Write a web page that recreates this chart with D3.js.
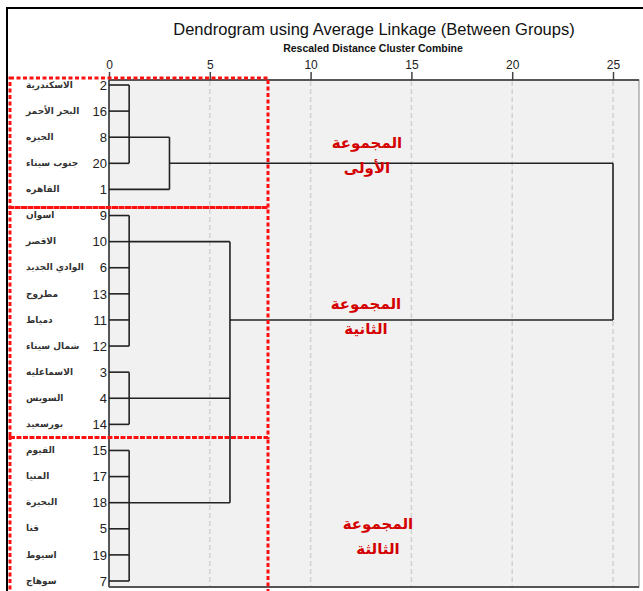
<!DOCTYPE html>
<html>
<head>
<meta charset="utf-8">
<script src="https://cdn.jsdelivr.net/npm/d3@7/dist/d3.min.js"></script>
<style>
  html, body { margin: 0; padding: 0; background: #ffffff; }
  svg { display: block; }
</style>
</head>
<body>
<svg id="chart" width="643" height="591"></svg>
<script>
// ---------------- DATA ----------------
const caseNumbers = [2, 16, 8, 20, 1, 9, 10, 6, 13, 11, 12, 3, 4, 14, 15, 17, 18, 5, 19, 7];
const caseNames = ["الاسكندرية", "البحر الأحمر", "الجيزه", "جنوب سيناء", "القاهره",
  "اسوان", "الاقصر", "الوادي الجديد", "مطروح", "دمياط", "شمال سيناء",
  "الاسماعليه", "السويس", "بورسعيد",
  "الفيوم", "المنيا", "البحيرة", "قنا", "اسيوط", "سوهاج"];

// clusters: id, members (case numbers or cluster ids), rescaled distance, leaf at whose row the link leaves
const clusterIds = ["A", "B", "C", "D", "E", "F", "G"];
const clusterMembers = [
  [2, 16, 8, 20],
  ["A", 1],
  [9, 10, 6, 13, 11, 12],
  [3, 4, 14],
  [15, 17, 18, 5, 19, 7],
  ["C", "D", "E"],
  ["B", "F"]
];
const clusterDistance = [1, 3, 1, 1, 1, 6, 25];
const clusterAnchor = [8, 20, 10, 4, 18, 11, null];

const axisTicks = [0, 5, 10, 15, 20, 25];
const titleText = "Dendrogram using Average Linkage (Between Groups)";
const subtitleText = "Rescaled Distance Cluster Combine";
const groupTitles = ["المجموعة", "المجموعة", "المجموعة"];
const groupNames = ["الأولى", "الثانية", "الثالثة"];
const groupFirstCase = [2, 9, 15];

// ---------------- LAYOUT ----------------
const svg = d3.select("#chart");
const plot = { left: 109, right: 639, top: 80, bottom: 587 };

const x = d3.scaleLinear().domain([0, 25]).range([109, 613]);
const y = d3.scalePoint().domain(caseNumbers).range([85, 581]);

// outer frame
svg.append("rect").attr("x", 0).attr("y", 0).attr("width", 643).attr("height", 591).attr("fill", "#ffffff");
svg.append("path").attr("d", "M7,600 V8 H660").attr("fill", "none").attr("stroke", "#000").attr("stroke-width", 2);

// plot background
svg.append("rect")
  .attr("x", plot.left).attr("y", plot.top)
  .attr("width", plot.right - plot.left).attr("height", plot.bottom - plot.top)
  .attr("fill", "#f1f1f1").attr("stroke", "#888").attr("stroke-width", 1);
svg.append("line").attr("x1", plot.left).attr("x2", plot.right).attr("y1", plot.top).attr("y2", plot.top)
  .attr("stroke", "#333").attr("stroke-width", 1.5);
svg.append("line").attr("x1", plot.left).attr("x2", plot.left).attr("y1", plot.top).attr("y2", plot.bottom)
  .attr("stroke", "#333").attr("stroke-width", 1.5);
svg.append("line").attr("x1", plot.left).attr("x2", plot.right).attr("y1", plot.bottom).attr("y2", plot.bottom)
  .attr("stroke", "#555").attr("stroke-width", 2);

// grid lines
svg.append("g").selectAll("line").data(axisTicks.filter(t => t > 0)).join("line")
  .attr("x1", d => x(d)).attr("x2", d => x(d))
  .attr("y1", plot.top + 1).attr("y2", plot.bottom - 1)
  .attr("stroke", "#d2d2d2").attr("stroke-width", 1.5).attr("stroke-dasharray", "5,3");

// axis
const axis = d3.axisTop(x).tickValues(axisTicks).tickSize(8).tickPadding(3);
const gAxis = svg.append("g").attr("transform", `translate(0,${plot.top})`).call(axis);
gAxis.select(".domain").remove();
gAxis.selectAll(".tick line").attr("stroke", "#444").attr("stroke-width", 1.5);
gAxis.selectAll(".tick text").attr("font-family", "Liberation Sans, Arial, sans-serif")
  .attr("font-size", 12).attr("fill", "#222");

// titles
svg.append("text").attr("x", 374).attr("y", 35).attr("text-anchor", "middle")
  .attr("font-family", "Liberation Sans, Arial, sans-serif").attr("font-size", 16.5).attr("fill", "#111")
  .text(titleText);
svg.append("text").attr("x", 373).attr("y", 52).attr("text-anchor", "middle")
  .attr("font-family", "Liberation Sans, Arial, sans-serif").attr("font-size", 10.5).attr("font-weight", "bold").attr("fill", "#111")
  .text(subtitleText);

// leaf labels
const gLabels = svg.append("g");
gLabels.selectAll("text.num").data(caseNumbers).join("text").attr("class", "num")
  .attr("x", 107).attr("y", d => y(d)).attr("dy", "0.36em").attr("text-anchor", "end")
  .attr("font-family", "Liberation Sans, Arial, sans-serif").attr("font-size", 13).attr("fill", "#222")
  .text(d => d);
gLabels.selectAll("text.name").data(caseNumbers).join("text").attr("class", "name")
  .attr("x", 26).attr("y", d => y(d)).attr("dy", "0.3em").attr("text-anchor", "start")
  .attr("font-family", "DejaVu Sans, sans-serif").attr("font-size", 9).attr("font-weight", "bold").attr("fill", "#333")
  .text((d, i) => caseNames[i]);

// dendrogram
const nodes = new Map();
caseNumbers.forEach(c => nodes.set(c, { h: 0, y: y(c) }));
const gTree = svg.append("g").attr("fill", "none").attr("stroke", "#222").attr("stroke-width", 1.6);
clusterIds.forEach((id, i) => {
  const h = clusterDistance[i];
  const kids = clusterMembers[i].map(m => nodes.get(m));
  const ys = kids.map(k => k.y);
  kids.forEach(k => {
    gTree.append("line").attr("x1", x(k.h)).attr("x2", x(h)).attr("y1", k.y).attr("y2", k.y);
  });
  gTree.append("line").attr("x1", x(h)).attr("x2", x(h)).attr("y1", d3.min(ys)).attr("y2", d3.max(ys));
  const ny = clusterAnchor[i] != null ? y(clusterAnchor[i]) : d3.mean(ys);
  nodes.set(id, { h: h, y: ny });
});

// red dotted group boxes
const boxLeft = 10, boxRight = 268;
const boxTopOffset = [7, 8, 13];
const boxTops = groupFirstCase.map((c, i) => y(c) - boxTopOffset[i]);
const gBoxes = svg.append("g").attr("fill", "none").attr("stroke", "#ff1010")
  .attr("stroke-width", 3).attr("stroke-dasharray", "4,2.5");
boxTops.forEach((top, i) => {
  const bottom = i < boxTops.length - 1 ? boxTops[i + 1] : 600;
  gBoxes.append("rect").attr("x", boxLeft).attr("y", top)
    .attr("width", boxRight - boxLeft).attr("height", bottom - top);
});

// group labels
const groupX = [367, 366, 378];
const groupY = [148, 309, 529];
const gGroups = svg.append("g").attr("fill", "#d40000").attr("font-family", "DejaVu Sans, sans-serif")
  .attr("font-weight", "bold").attr("font-size", 15).attr("text-anchor", "middle");
groupTitles.forEach((t, i) => {
  gGroups.append("text").attr("x", groupX[i]).attr("y", groupY[i]).text(t);
  gGroups.append("text").attr("x", groupX[i]).attr("y", groupY[i] + 25).text(groupNames[i]);
});
</script>
</body>
</html>
